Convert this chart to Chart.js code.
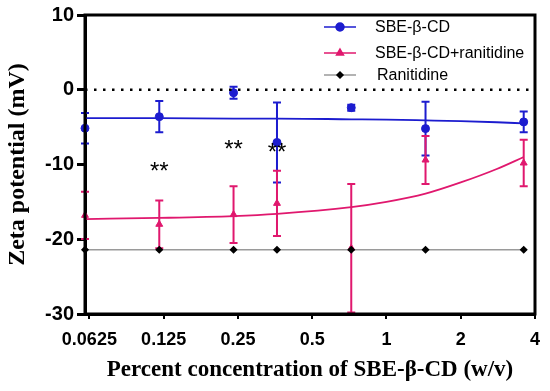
<!DOCTYPE html>
<html>
<head>
<meta charset="utf-8">
<script src="https://cdn.jsdelivr.net/npm/chart.js@4.4.0/dist/chart.umd.min.js"></script>
<style>
  html, body { margin: 0; padding: 0; background: #fff; }
  #wrap { width: 550px; height: 391px; }
</style>
</head>
<body>
<div id="wrap"><canvas id="zetaChart" width="550" height="391"></canvas></div>
<script>
// === Data ===
const concentrations = [0.06, 0.12, 0.24, 0.36, 0.72, 1.44, 3.6];
const sbeZeta = [-5.15, -3.6, -0.4, -7.05, -2.4, -5.2, -4.3];
const sbeErr = [2.05, 2.1, 0.8, 5.35, 0.4, 3.6, 1.4];
const complexZeta = [-16.8, -18.0, -16.7, -15.2, -21.2, -9.4, -9.8];
const complexErr = [3.15, 3.2, 3.8, 4.35, 8.6, 3.2, 3.1];
const ranitidineZeta = [-21.4, -21.4, -21.4, -21.4, -21.4, -21.4, -21.4];

// fitted curves, read at a few x positions
const fitX = [0.06, 0.12, 0.24, 0.36, 0.72, 1.0, 1.44, 2.0, 2.8, 3.6];
const sbeFit = [-3.8, -3.8, -3.85, -3.85, -3.95, -4.0, -4.1, -4.2, -4.35, -4.5];
const complexFit = [-17.3, -17.15, -16.9, -16.6, -15.7, -15.0, -13.9, -12.4, -10.6, -9.0];

const zeroLineX = [0.06, 4];
const zeroLineY = [0, 0];

const xTicks = [0.0625, 0.125, 0.25, 0.5, 1, 2, 4];
const xTickLabels = ["0.0625", "0.125", "0.25", "0.5", "1", "2", "4"];
const yTicks = [-30, -20, -10, 0, 10];

// significance marks
const starX = [0.12, 0.24, 0.36];
const starY = [-10.1, -7.1, -7.5];
const starText = ["**", "**", "**"];

const legendOrder = ["SBE-β-CD", "SBE-β-CD+ranitidine", "Ranitidine"];

const BLUE = "#1c1ccf";
const PINK = "#e0186e";

const toPoints = (xs, ys) => xs.map((v, i) => ({ x: v, y: ys[i] }));

// === Plugins ===
const errorBars = {
  id: "errorBars",
  beforeDatasetsDraw(chart) {
    const { ctx, scales: { x, y } } = chart;
    chart.data.datasets.forEach(ds => {
      if (!ds.errors) return;
      ctx.save();
      ctx.strokeStyle = ds.borderColor;
      ctx.lineWidth = 2;
      ds.data.forEach((p, i) => {
        const px = x.getPixelForValue(p.x);
        const top = y.getPixelForValue(p.y + ds.errors[i]);
        const bot = y.getPixelForValue(p.y - ds.errors[i]);
        ctx.beginPath();
        ctx.moveTo(px, top); ctx.lineTo(px, bot);
        ctx.moveTo(px - 4, top); ctx.lineTo(px + 4, top);
        ctx.moveTo(px - 4, bot); ctx.lineTo(px + 4, bot);
        ctx.stroke();
      });
      ctx.restore();
    });
  }
};

const extras = {
  id: "extras",
  afterDraw(chart) {
    const { ctx, chartArea, scales: { x, y } } = chart;

    // frame
    ctx.save();
    ctx.strokeStyle = "#000";
    ctx.lineWidth = 3;
    ctx.strokeRect(chartArea.left, chartArea.top, chartArea.right - chartArea.left, chartArea.bottom - chartArea.top);

    // ** marks (glyph centre sits ~0.58em above the baseline)
    const starSize = 24;
    ctx.fillStyle = "#000";
    ctx.font = starSize + "px 'Liberation Sans', Arial";
    ctx.textAlign = "center";
    ctx.textBaseline = "alphabetic";
    starX.forEach((v, i) => {
      ctx.fillText(starText[i], x.getPixelForValue(v), y.getPixelForValue(starY[i]) + starSize * 0.58);
    });

    // legend
    const rows = [27, 53, 75];
    ctx.font = "16px 'Liberation Sans', Arial";
    ctx.textAlign = "left";
    ctx.textBaseline = "middle";
    legendOrder.forEach((name, i) => {
      const ds = chart.data.datasets.find(d => d.label === name);
      const yy = rows[i];
      ctx.strokeStyle = ds.borderColor;
      ctx.lineWidth = 1.5;
      ctx.beginPath();
      ctx.moveTo(324, yy); ctx.lineTo(356, yy);
      ctx.stroke();
      ctx.fillStyle = ds.pointBackgroundColor;
      ctx.strokeStyle = ds.pointBackgroundColor;
      Chart.helpers.drawPoint(ctx, { pointStyle: ds.pointStyle, radius: ds.pointRadius, rotation: 0, borderWidth: 1 }, 340, yy);
      ctx.fillStyle = "#000";
      ctx.fillText(ds.label, i === 2 ? 377 : 375, yy + 1);
    });
    ctx.restore();
  }
};

// === Chart ===
const canvas = document.getElementById("zetaChart");
new Chart(canvas, {
  type: "line",
  data: {
    datasets: [
      {
        label: "zero",
        data: toPoints(zeroLineX, zeroLineY),
        borderColor: "#000",
        borderWidth: 2.5,
        borderDash: [2.5, 6.5],
        pointRadius: 0,
        clip: false
      },
      {
        label: "Ranitidine",
        data: toPoints(concentrations, ranitidineZeta),
        borderColor: "#9a9a9a",
        borderWidth: 1.5,
        pointStyle: "rectRot",
        pointRadius: 3,
        pointBackgroundColor: "#000",
        pointBorderColor: "#000",
        clip: false
      },
      {
        label: "sbe fit",
        data: toPoints(fitX, sbeFit),
        borderColor: BLUE,
        borderWidth: 1.8,
        pointRadius: 0,
        cubicInterpolationMode: "monotone",
        clip: false
      },
      {
        label: "complex fit",
        data: toPoints(fitX, complexFit),
        borderColor: PINK,
        borderWidth: 1.8,
        pointRadius: 0,
        cubicInterpolationMode: "monotone",
        clip: false
      },
      {
        label: "SBE-β-CD",
        data: toPoints(concentrations, sbeZeta),
        errors: sbeErr,
        showLine: false,
        borderColor: BLUE,
        pointStyle: "circle",
        pointRadius: 4,
        pointBackgroundColor: BLUE,
        pointBorderColor: BLUE,
        clip: false
      },
      {
        label: "SBE-β-CD+ranitidine",
        data: toPoints(concentrations, complexZeta),
        errors: complexErr,
        showLine: false,
        borderColor: PINK,
        pointStyle: "triangle",
        pointRadius: 4,
        pointBackgroundColor: PINK,
        pointBorderColor: PINK,
        clip: false
      }
    ]
  },
  options: {
    responsive: false,
    animation: false,
    layout: { padding: { top: 14, right: 13, left: 0, bottom: 0 } },
    plugins: {
      legend: { display: false },
      tooltip: { enabled: false }
    },
    scales: {
      x: {
        type: "logarithmic",
        min: 0.06,
        max: 4,
        afterBuildTicks: scale => { scale.ticks = xTicks.map(v => ({ value: v })); },
        afterFit: scale => { scale.height = 77; },
        border: { color: "#000", width: 3 },
        grid: { drawOnChartArea: false, drawTicks: true, tickLength: 5, color: "#000", lineWidth: 2 },
        ticks: {
          color: "#000",
          padding: 10,
          autoSkip: false,
          maxRotation: 0,
          font: { family: "'Liberation Sans', Arial", size: 18, weight: "bold" },
          callback: value => xTickLabels[xTicks.indexOf(value)]
        },
        title: {
          display: true,
          text: "Percent concentration of SBE-β-CD (w/v)",
          color: "#000",
          padding: { bottom: 7 },
          font: { family: "'Liberation Serif', 'Times New Roman'", size: 23, weight: "bold" }
        }
      },
      y: {
        min: -30,
        max: 10,
        afterBuildTicks: scale => { scale.ticks = yTicks.map(v => ({ value: v })); },
        afterFit: scale => { scale.width = 85; },
        border: { color: "#000", width: 3 },
        grid: { drawOnChartArea: false, drawTicks: true, tickLength: 8, color: "#000", lineWidth: 3 },
        ticks: {
          color: "#000",
          padding: 3,
          font: { family: "'Liberation Sans', Arial", size: 20, weight: "bold" }
        },
        title: {
          display: true,
          text: "Zeta potential (mV)",
          color: "#000",
          padding: { top: 3 },
          font: { family: "'Liberation Serif', 'Times New Roman'", size: 24, weight: "bold" }
        }
      }
    }
  },
  plugins: [errorBars, extras]
});
</script>
</body>
</html>
